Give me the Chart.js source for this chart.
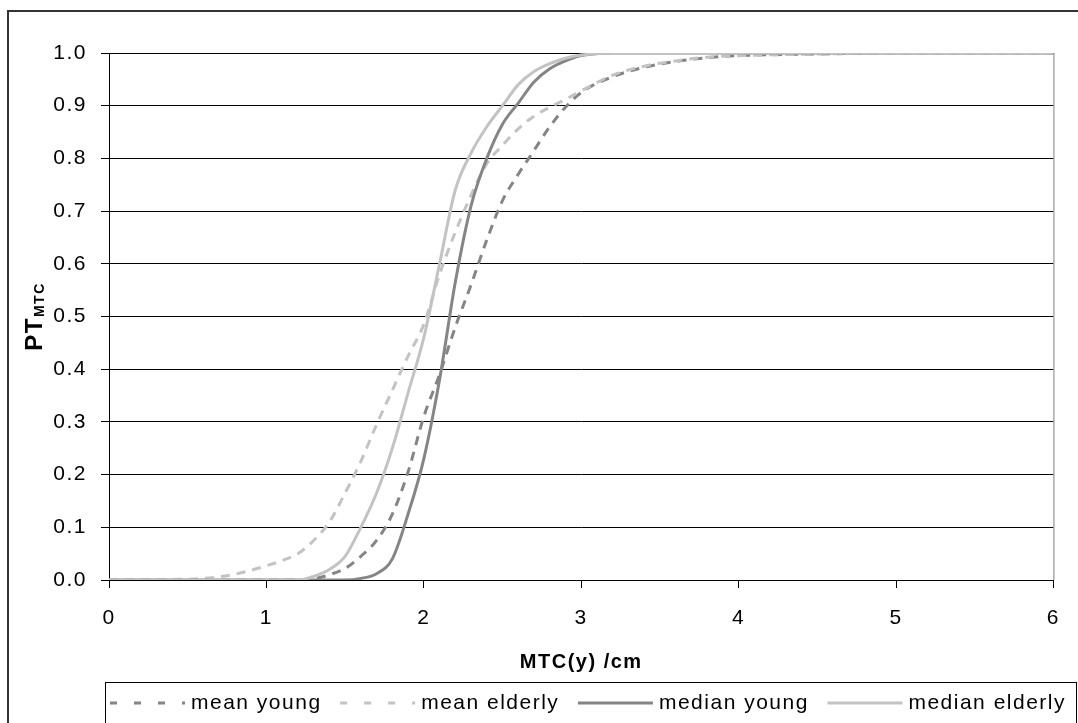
<!DOCTYPE html>
<html>
<head>
<meta charset="utf-8">
<script src="https://cdn.jsdelivr.net/npm/chart.js@4.4.1/dist/chart.umd.min.js"></script>
<style>
  html, body { margin: 0; padding: 0; background: #fff; }
  canvas { display: block; }
</style>
</head>
<body>
<canvas id="chart" width="1078" height="723"></canvas>
<script>
// x grid (MTC(y) in cm) shared by all four curves
const mtc = [0, 0.2, 0.4, 0.6, 0.8, 1.0, 1.1, 1.2, 1.3, 1.4, 1.5, 1.6, 1.7, 1.8, 1.9, 2.0,
             2.1, 2.2, 2.3, 2.4, 2.5, 2.6, 2.7, 2.8, 2.9, 3.0, 3.2, 3.4, 3.6, 3.8, 4.0, 4.5, 5.0, 6.0];

const meanYoung = [0, 0, 0, 0, 0, 0, 0, 0, 0.002, 0.01, 0.022, 0.045, 0.075, 0.125, 0.205, 0.31,
                   0.39, 0.48, 0.56, 0.645, 0.72, 0.77, 0.815, 0.86, 0.897, 0.925, 0.955, 0.973, 0.984, 0.991, 0.995, 0.998, 1, 1];
const meanElderly = [0, 0, 0.001, 0.003, 0.011, 0.027, 0.037, 0.05, 0.075, 0.11, 0.165, 0.225, 0.295, 0.36, 0.425, 0.485,
                     0.58, 0.66, 0.73, 0.79, 0.825, 0.856, 0.88, 0.897, 0.912, 0.928, 0.958, 0.975, 0.985, 0.992, 0.995, 0.998, 1, 1];
const medianYoung = [0, 0, 0, 0, 0, 0, 0, 0, 0, 0, 0, 0.003, 0.012, 0.04, 0.125, 0.23,
                     0.38, 0.565, 0.71, 0.8, 0.865, 0.905, 0.945, 0.97, 0.985, 0.995, 1, 1, 1, 1, 1, 1, 1, 1];
const medianElderly = [0, 0, 0, 0, 0, 0, 0, 0, 0.007, 0.02, 0.045, 0.1, 0.165, 0.25, 0.355, 0.46,
                       0.6, 0.74, 0.81, 0.86, 0.9, 0.94, 0.965, 0.98, 0.99, 0.996, 1, 1, 1, 1, 1, 1, 1, 1];

const seriesNames = ['mean young', 'mean elderly', 'median young', 'median elderly'];
const xTitle = 'MTC(y) /cm';
const yTitle = 'PT';
const ySub = 'MTC';

const family = "'Liberation Sans', Arial, sans-serif";
const spacing = '1.5px';
const dark = '#858585';
const light = '#c3c3c3';

const toPoints = arr => mtc.map((x, i) => ({ x, y: arr[i] }));

function line(label, values, color, dashed, order) {
  return {
    label,
    data: toPoints(values),
    showLine: true,
    borderColor: color,
    backgroundColor: color,
    borderWidth: 3,
    borderDash: dashed ? [9, 7] : [],
    pointRadius: 0,
    cubicInterpolationMode: 'monotone',
    order
  };
}

const decor = {
  id: 'decor',
  beforeUpdate(chart) { chart.ctx.letterSpacing = spacing; },
  beforeDraw(chart) {
    const ctx = chart.ctx;
    ctx.save();
    ctx.fillStyle = '#fff';
    ctx.fillRect(0, 0, chart.width, chart.height);
    ctx.strokeStyle = '#333';
    ctx.lineWidth = 2;
    ctx.strokeRect(8, 11, chart.width + 20, chart.height + 20);
    ctx.restore();
    ctx.letterSpacing = spacing;
  },
  afterDraw(chart) {
    const { ctx, chartArea: a } = chart;
    ctx.save();
    ctx.letterSpacing = spacing;

    // plot area right edge
    ctx.strokeStyle = '#808080';
    ctx.lineWidth = 1;
    ctx.beginPath();
    ctx.moveTo(a.right + 0.5, a.top);
    ctx.lineTo(a.right + 0.5, a.bottom);
    ctx.stroke();

    // y title with subscript
    ctx.save();
    ctx.translate(33, (a.top + a.bottom) / 2);
    ctx.rotate(-Math.PI / 2);
    ctx.fillStyle = '#000';
    ctx.textAlign = 'left';
    ctx.textBaseline = 'alphabetic';
    ctx.font = 'bold 24px ' + family;
    const w1 = ctx.measureText(yTitle).width;
    ctx.font = 'bold 14px ' + family;
    const w2 = ctx.measureText(ySub).width;
    const start = -(w1 + w2) / 2;
    ctx.font = 'bold 24px ' + family;
    ctx.fillText(yTitle, start, 9);
    ctx.font = 'bold 14px ' + family;
    ctx.fillText(ySub, start + w1, 11);
    ctx.restore();

    // legend row in a frame
    const boxTop = a.bottom + 102;
    const boxLeft = a.left - 4;
    const boxRight = chart.width - 2;
    ctx.strokeStyle = '#000';
    ctx.lineWidth = 1;
    ctx.strokeRect(boxLeft + 0.5, boxTop + 0.5, boxRight - boxLeft, 60);

    ctx.font = '21px ' + family;
    ctx.textBaseline = 'middle';
    ctx.textAlign = 'left';
    const sampleW = 75, gap = 6;
    const ds = chart.data.datasets;
    const widths = ds.map(d => ctx.measureText(d.label).width);
    const used = ds.length * (sampleW + gap) + widths.reduce((s, w) => s + w, 0);
    const startX = boxLeft + 5;
    const endX = boxRight - 10;
    const itemGap = (endX - startX - used) / (ds.length - 1);
    const cy = boxTop + 21;
    let x = startX;
    ds.forEach((d, i) => {
      ctx.strokeStyle = d.borderColor;
      ctx.lineWidth = 3;
      ctx.setLineDash(d.borderDash.length ? [7, 17] : []);
      ctx.beginPath();
      ctx.moveTo(x, cy);
      ctx.lineTo(x + sampleW, cy);
      ctx.stroke();
      ctx.setLineDash([]);
      ctx.fillStyle = '#000';
      ctx.fillText(d.label, x + sampleW + gap, cy);
      x += sampleW + gap + widths[i] + itemGap;
    });
    ctx.restore();
  }
};

Chart.defaults.font.family = family;
Chart.defaults.color = '#000';

new Chart(document.getElementById('chart'), {
  type: 'scatter',
  data: {
    datasets: [
      line(seriesNames[0], meanYoung, dark, true, 4),
      line(seriesNames[1], meanElderly, light, true, 3),
      line(seriesNames[2], medianYoung, dark, false, 2),
      line(seriesNames[3], medianElderly, light, false, 1)
    ]
  },
  options: {
    responsive: false,
    animation: false,
    layout: { padding: { left: 0, top: 53, right: 24, bottom: 43 } },
    plugins: {
      legend: { display: false },
      tooltip: { enabled: false }
    },
    scales: {
      x: {
        type: 'linear',
        min: 0,
        max: 6,
        ticks: { stepSize: 1, padding: 18, color: '#000', font: { size: 21, family } },
        grid: { drawOnChartArea: false, drawTicks: true, tickLength: 8, color: '#000' },
        border: { color: '#000', width: 1 },
        title: {
          display: true,
          text: xTitle,
          color: '#000',
          font: { size: 20, weight: 'bold', family },
          padding: { top: 20, bottom: 6 }
        },
        afterFit(scale) { scale.height = 100; }
      },
      y: {
        min: 0,
        max: 1,
        ticks: {
          stepSize: 0.1,
          padding: 14,
          color: '#000',
          font: { size: 21, family },
          callback: v => v.toFixed(1)
        },
        grid: { color: '#000', lineWidth: 1, tickLength: 8 },
        border: { color: '#000', width: 1 },
        afterFit(scale) { scale.width = 109; }
      }
    }
  },
  plugins: [decor]
});
</script>
</body>
</html>
